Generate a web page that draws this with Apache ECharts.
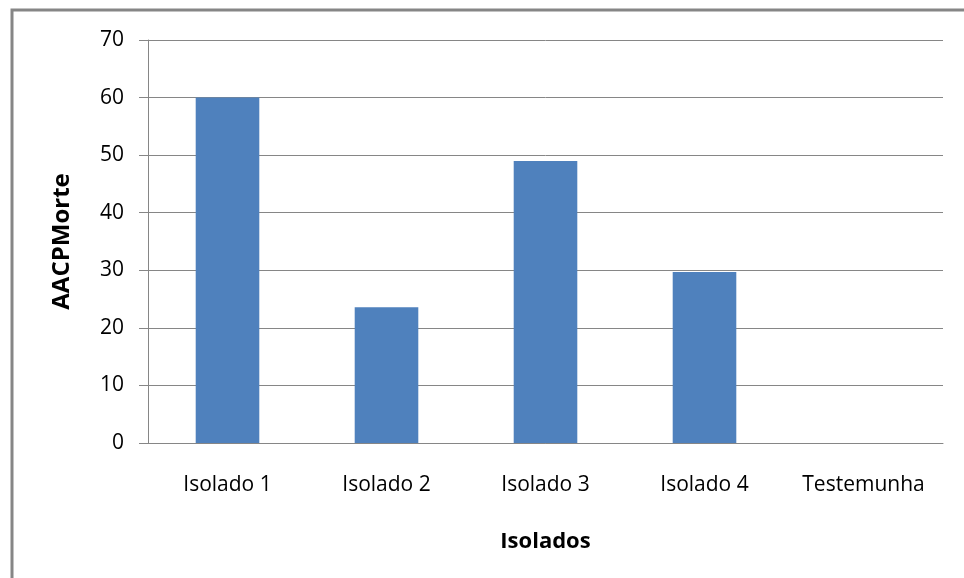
<!DOCTYPE html>
<html>
<head>
<meta charset="utf-8">
<script src="https://cdn.jsdelivr.net/npm/echarts@6/dist/echarts.min.js"></script>
<style>
  html, body { margin: 0; padding: 0; background: #ffffff; }
  #chart { width: 964px; height: 578px; }
</style>
</head>
<body>
<div id="chart"></div>
<script>
// Categories and AACPMorte values per isolate
const categories = ['Isolado 1', 'Isolado 2', 'Isolado 3', 'Isolado 4', 'Testemunha'];
const aacpValues = [60, 23.6, 49, 29.7, 0];
const yTicks = { min: 0, max: 70, interval: 10 };

const chart = echarts.init(document.getElementById('chart'), null, { renderer: 'canvas' });
const FONT = '"Open Sans", sans-serif';

chart.setOption({
  animation: false,
  backgroundColor: '#ffffff',
  graphic: [{
    type: 'rect',
    shape: { x: 12, y: 10, width: 1000, height: 1000 },
    style: { fill: 'none', stroke: '#868686', lineWidth: 3 },
    silent: true
  }],
  grid: { left: 148, right: 21, top: 40, bottom: 135, containLabel: false },
  xAxis: {
    type: 'category',
    data: categories,
    name: 'Isolados',
    nameLocation: 'middle',
    nameGap: 88,
    nameTextStyle: { fontFamily: FONT, fontWeight: 'bold', fontSize: 22, color: '#000' },
    axisLine: { lineStyle: { color: '#868686', width: 1 } },
    axisTick: { show: false },
    axisLabel: { fontFamily: FONT, fontSize: 21, color: '#000', margin: 32, interval: 0 },
    splitLine: { show: false }
  },
  yAxis: {
    type: 'value',
    min: yTicks.min,
    max: yTicks.max,
    interval: yTicks.interval,
    name: 'AACPMorte',
    nameLocation: 'middle',
    nameGap: 74,
    nameRotate: 90,
    nameTextStyle: { fontFamily: FONT, fontWeight: 'bold', fontSize: 24, color: '#000' },
    axisLine: { show: true, lineStyle: { color: '#868686', width: 1 } },
    axisTick: { show: true, length: 9, inside: false, lineStyle: { color: '#868686' } },
    axisLabel: { fontFamily: FONT, fontSize: 21, color: '#000', margin: 24 },
    splitLine: { show: true, lineStyle: { color: '#868686', width: 1 } }
  },
  series: [{
    type: 'bar',
    data: aacpValues,
    barWidth: '40%',
    itemStyle: { color: '#4f81bd' }
  }]
});
</script>
</body>
</html>
